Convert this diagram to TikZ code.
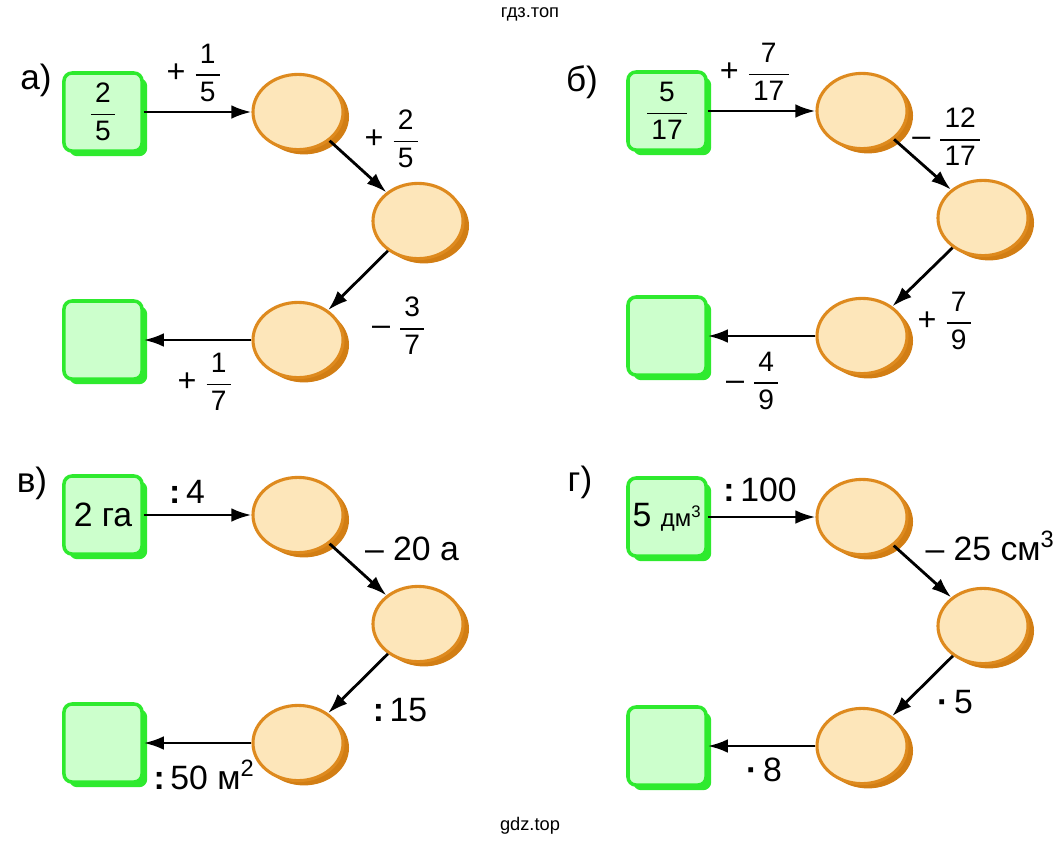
\documentclass[tikz,border=0pt]{standalone}
\usepackage{fix-cm}
\usepackage{amsmath}
\usepackage{fontspec}
\setmainfont{Liberation Sans}
\usetikzlibrary{arrows.meta}
\usetikzlibrary{shapes.geometric}
\usetikzlibrary{shadows}
\tikzset{>={Latex[length=5mm,width=3.4mm]}}

\definecolor{boxfill}{HTML}{CCFFCC}
\definecolor{boxedge}{HTML}{2EEA2E}
\definecolor{ovalfill}{HTML}{FDE6BA}
\definecolor{ovaledge}{HTML}{DE8A1E}
\definecolor{ovaldark}{HTML}{D27E14}

\newcommand{\fr}[2]{$\genfrac{}{}{1.3pt}{0}{\text{\kern3pt#1\kern3pt}}{\text{\kern3pt#2\kern3pt}}$}
\newcommand{\sgn}[1]{{\fontsize{23}{28}\selectfont #1}\hspace{6pt}}
\newcommand{\divis}{{\bfseries :}\,}
\newcommand{\mult}{{\bfseries ·}\,}

\tikzset{
  numbox/.style={rectangle, rounded corners=2mm, draw=boxedge, line width=2.5pt,
    fill=boxfill, minimum width=1.95cm, minimum height=1.95cm, inner sep=0pt,
    drop shadow={shadow xshift=1.3mm, shadow yshift=-1.3mm, fill=boxedge, opacity=1}},
  oval/.style={ellipse, draw=ovaledge, line width=2.2pt, fill=ovalfill,
    minimum width=2.25cm, minimum height=1.88cm, inner sep=0pt,
    drop shadow={shadow xshift=1.5mm, shadow yshift=-1.2mm, fill=ovaldark, opacity=1}},
  link/.style={->, line width=2pt},
  op/.style={font=\fontsize{24}{28}\selectfont, inner sep=0pt},
  opfr/.style={font=\fontsize{20}{24}\selectfont, inner sep=0pt},
  part/.style={font=\fontsize{25}{30}\selectfont, inner sep=0pt},
  sitemark/.style={font=\fontsize{13}{15}\selectfont, inner sep=0pt}
}

\begin{document}
\begin{tikzpicture}[x=0.025cm,y=-0.025cm]
  \useasboundingbox (0,0) rectangle (1060,844);

  \node[sitemark] (top) at (530,14) {гдз.топ};
  \node[sitemark] (bottom) at (530,826) {gdz.top};

  % а)
  \node[part] (pa) at (36,80) {а)};
  \node[numbox,opfr] (a0) at (103,112) {\fr{2}{5}};
  \node[oval] (a1) at (298,112) {};
  \node[oval] (a2) at (418,221) {};
  \node[oval] (a3) at (298,340) {};
  \node[numbox] (a4) at (103,340) {};
  \draw[link] (a0) -- (a1);
  \draw[link] (a1) -- (a2);
  \draw[link] (a2) -- (a3);
  \draw[link] (a3) -- (a4);
  \node[opfr] (la1) at (194,73) {\sgn{+}\fr{1}{5}};
  \node[opfr] (la2) at (392,139) {\sgn{+}\fr{2}{5}};
  \node[opfr] (la3) at (399,326) {\sgn{–}\fr{3}{7}};
  \node[opfr] (la4) at (205,382) {\sgn{+}\fr{1}{7}};

  % б)
  \node[part] (pb) at (582,82) {б)};
  \node[numbox,opfr] (b0) at (667,111) {\fr{5}{17}};
  \node[oval] (b1) at (862,111) {};
  \node[oval] (b2) at (983,218) {};
  \node[oval] (b3) at (862,336) {};
  \node[numbox] (b4) at (667,336) {};
  \draw[link] (b0) -- (b1);
  \draw[link] (b1) -- (b2);
  \draw[link] (b2) -- (b3);
  \draw[link] (b3) -- (b4);
  \node[opfr] (lb1) at (755,72) {\sgn{+}\fr{7}{17}};
  \node[opfr] (lb2) at (947,137) {\sgn{–}\fr{12}{17}};
  \node[opfr] (lb3) at (945,321) {\sgn{+}\fr{7}{9}};
  \node[opfr] (lb4) at (753,381) {\sgn{–}\fr{4}{9}};

  % в)
  \node[part] (pc) at (32,483) {в)};
  \node[numbox,op] (c0) at (103,515) {2 га};
  \node[oval] (c1) at (298,515) {};
  \node[oval] (c2) at (418,624) {};
  \node[oval] (c3) at (298,743) {};
  \node[numbox] (c4) at (103,743) {};
  \draw[link] (c0) -- (c1);
  \draw[link] (c1) -- (c2);
  \draw[link] (c2) -- (c3);
  \draw[link] (c3) -- (c4);
  \node[op] (lc1) at (187,492) {\divis 4};
  \node[op] (lc2) at (412,549) {– 20 а};
  \node[op] (lc3) at (400,710) {\divis 15};
  \node[op] (lc4) at (204,775) {\divis 50 м\textsuperscript{2}};

  % г)
  \node[part] (pd) at (580,482) {г)};
  \node[numbox,op] (d0) at (667,517) {5 {\fontsize{17}{20}\selectfont дм\textsuperscript{3}}};
  \node[oval] (d1) at (862,517) {};
  \node[oval] (d2) at (983,626) {};
  \node[oval] (d3) at (862,746) {};
  \node[numbox] (d4) at (667,746) {};
  \draw[link] (d0) -- (d1);
  \draw[link] (d1) -- (d2);
  \draw[link] (d2) -- (d3);
  \draw[link] (d3) -- (d4);
  \node[op] (ld1) at (760,490) {\divis 100};
  \node[op] (ld2) at (990,546) {– 25 см\textsuperscript{3}};
  \node[op] (ld3) at (955,702) {\mult 5};
  \node[op] (ld4) at (764,770) {\mult 8};
\end{tikzpicture}
\end{document}
